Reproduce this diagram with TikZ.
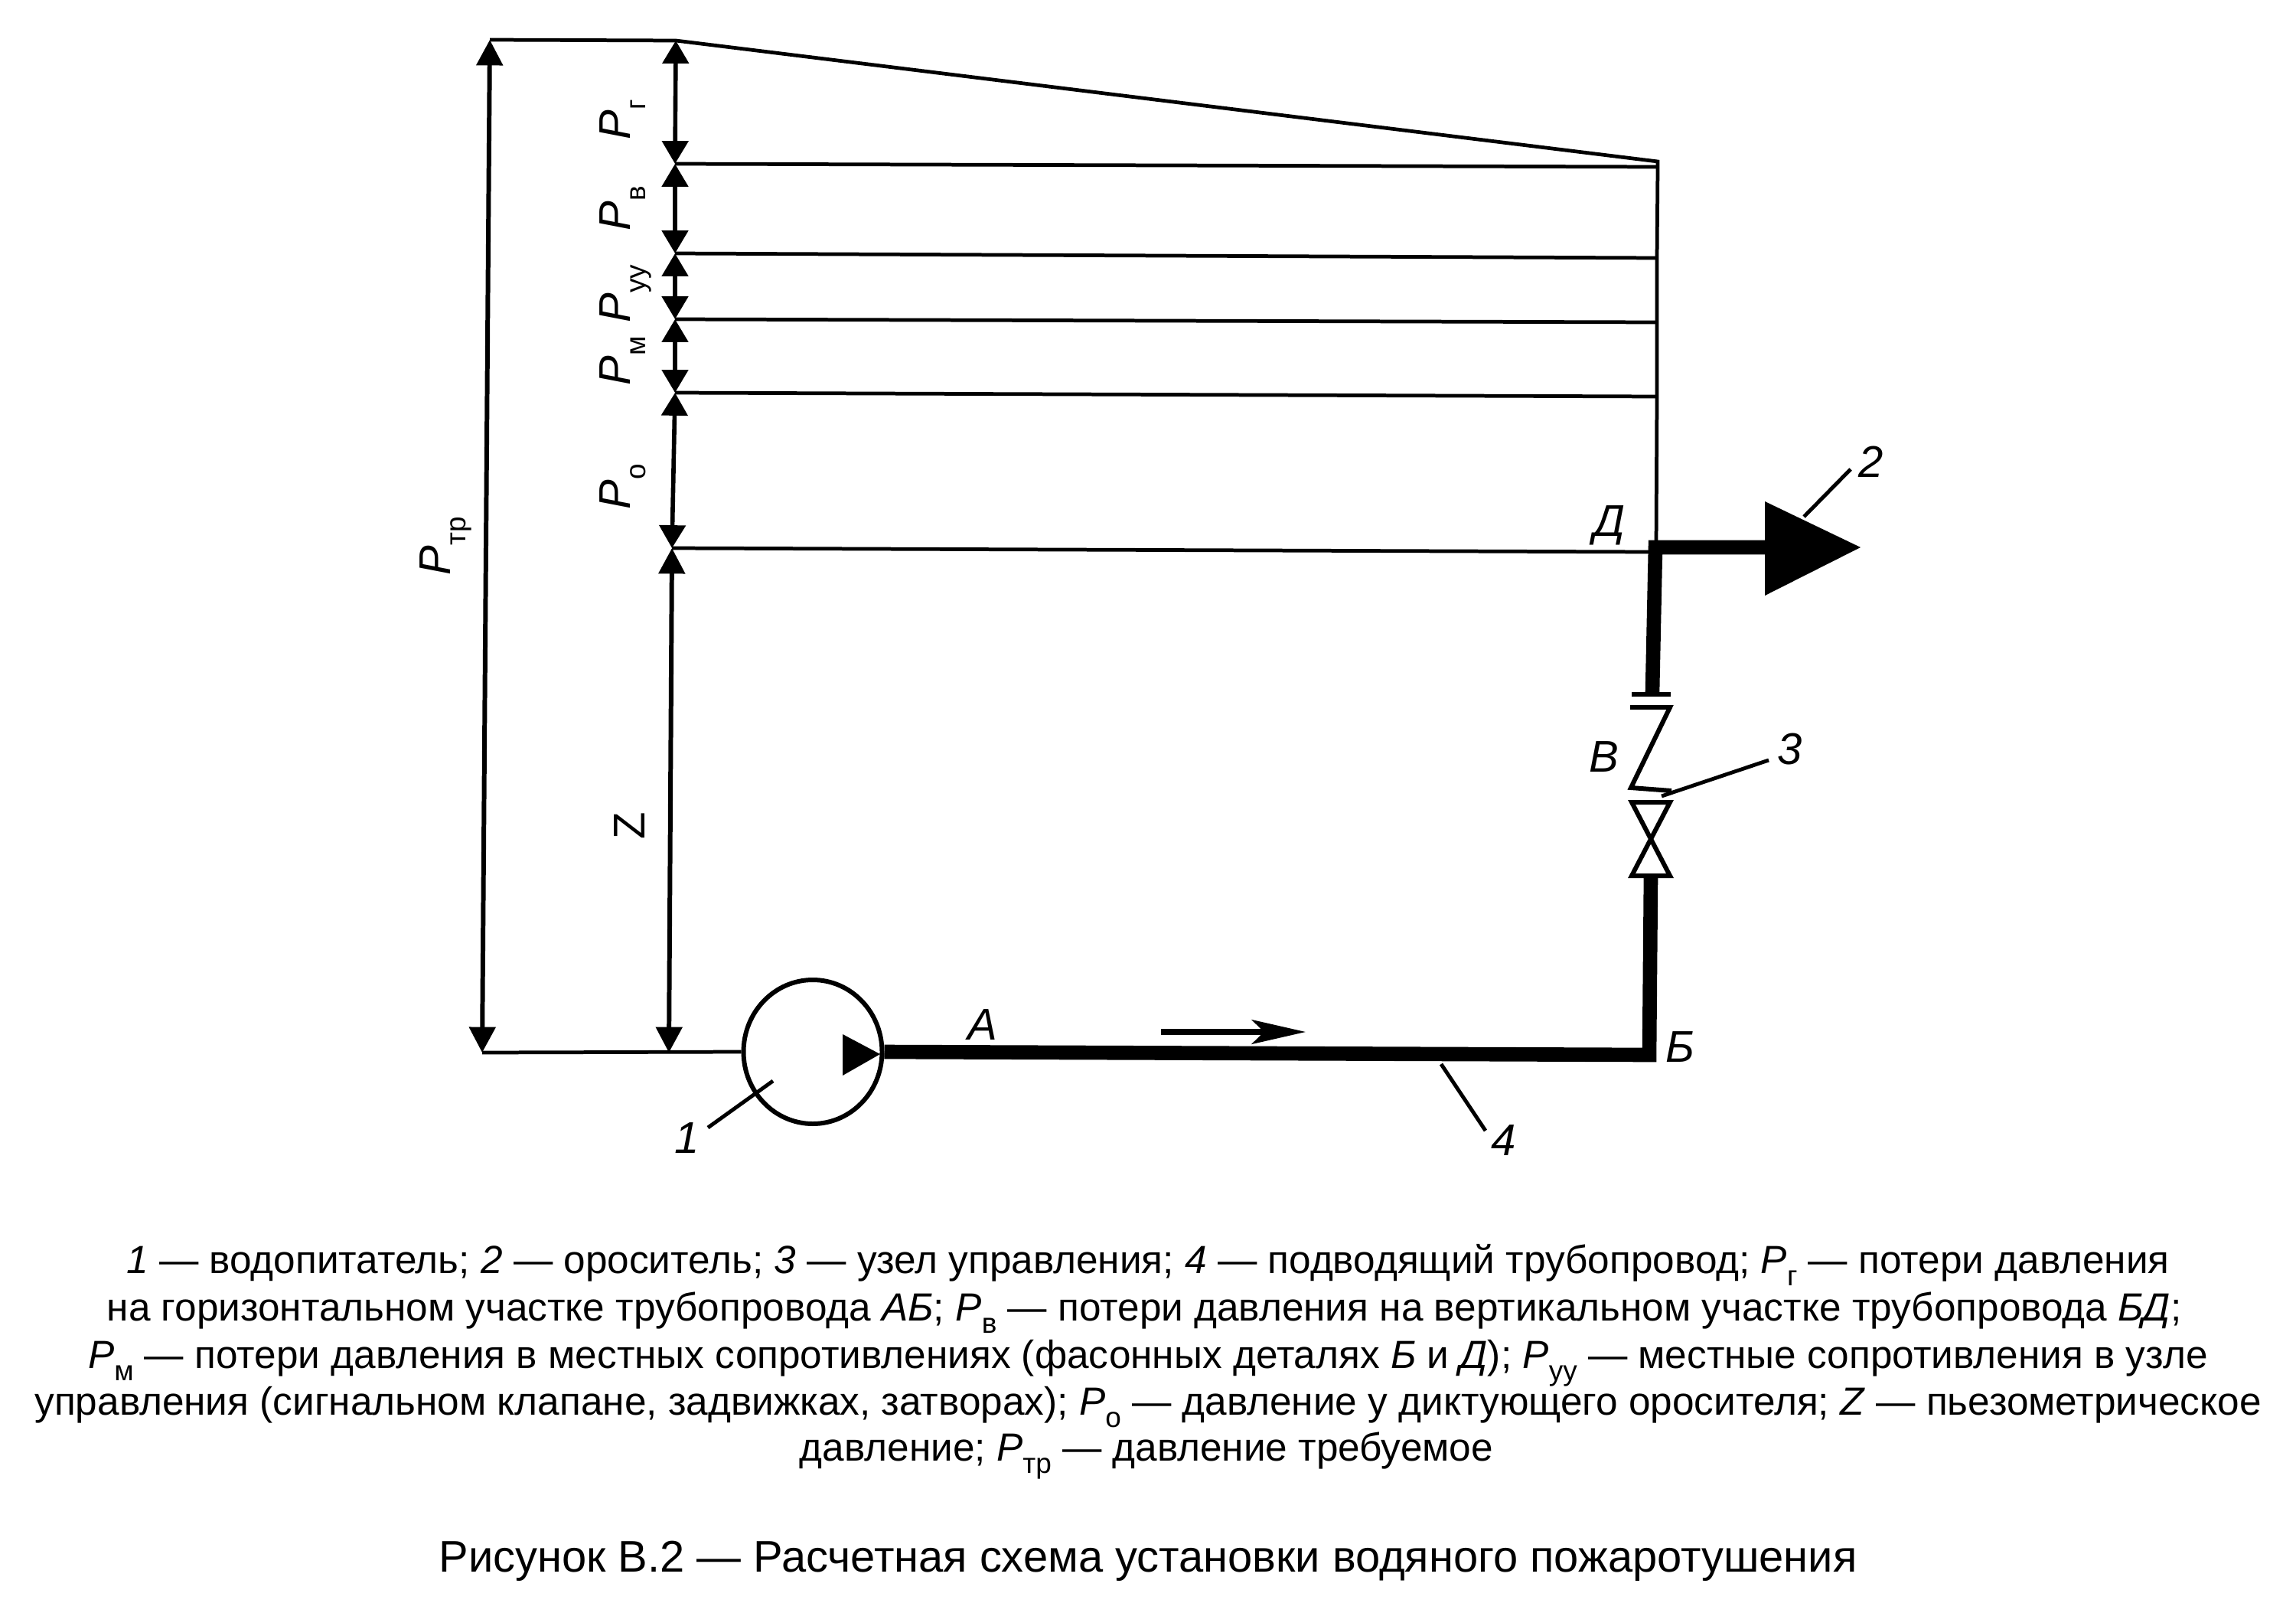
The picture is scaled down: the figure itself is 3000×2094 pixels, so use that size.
\documentclass[tikz,border=0pt]{standalone}
\usepackage{fontspec}
\setmainfont{Liberation Sans}
\usetikzlibrary{arrows.meta,shapes.geometric}
\newcommand{\capsub}[1]{\raisebox{-0.32em}{\fontsize{10.5pt}{12pt}\selectfont #1}}
\newcommand{\Pcap}[1]{\textit{P}\capsub{#1}}
\newcommand{\dimP}[1]{\fontsize{16.5pt}{18pt}\selectfont\textit{P}\raisebox{-5.7pt}{\fontsize{10.5pt}{12pt}\selectfont #1}}
\tikzset{
  thinl/.style={line width=1.35pt,black},
  leader/.style={line width=1.4pt,black},
  pipe/.style={line width=5.3pt,black,line join=miter},
  plate/.style={line width=1.7pt,black},
  dimarr/.style={line width=1.6pt,black,{Triangle[length=8.5pt,width=9.6pt]}-{Triangle[length=8.5pt,width=9.6pt]},shorten <=0pt,shorten >=0pt},
  dimbig/.style={line width=1.7pt,black,{Triangle[length=9.5pt,width=9.6pt]}-{Triangle[length=9.5pt,width=9.6pt]}},
  lab/.style={font=\fontsize{16.5pt}{18pt}\selectfont\itshape,inner sep=0pt},
  dimlab/.style={rotate=90,inner sep=0pt,anchor=base west},
  caption/.style={font=\fontsize{14.6pt}{17pt}\selectfont,anchor=base,inner sep=0pt},
  title/.style={font=\fontsize{16.45pt}{18pt}\selectfont,anchor=base,inner sep=0pt},
}
\begin{document}
\begin{tikzpicture}[x=0.01cm,y=-0.01cm]
\useasboundingbox (0,0) rectangle (3000,2094);
% key coordinates
\coordinate (ptop) at (640,52);
\coordinate (pbot) at (630,1375);
\coordinate (ztop) at (883,53);
\coordinate (l1) at (882,214);
\coordinate (l2) at (882,331);
\coordinate (l3) at (882,417);
\coordinate (l4) at (882,513);
\coordinate (l5) at (878,716);
\coordinate (zbot) at (874,1375);
\coordinate (r0) at (2166,211);
\coordinate (r1) at (2166,218);
\coordinate (r2) at (2165,337);
\coordinate (r3) at (2165,421);
\coordinate (r4) at (2165,518);
\coordinate (r5) at (2157,721);
\coordinate (rv) at (2164,712);
\coordinate (dj) at (2163,715);
\coordinate (dend) at (2310,715);
\coordinate (vtop) at (2159,904);
\coordinate (vbot) at (2157,1144);
\coordinate (bj) at (2155,1378);
% pump
\node[draw,ellipse,line width=1.7pt,minimum width=181*0.01cm,minimum height=188*0.01cm,inner sep=0pt] (pump) at (1062,1374) {};
\fill (1101,1351) -- (1150,1377) -- (1101,1405) -- cycle;
% envelope
\draw[thinl,line join=miter] (ptop) -- (ztop) -- (r0) -- (r1);
\draw[thinl] (r1) -- (r2) -- (r3) -- (r4) -- (rv);
\draw[thinl] (pbot) -- (pump.west);
% levels
\draw[thinl] (l1) -- (r1);
\draw[thinl] (l2) -- (r2);
\draw[thinl] (l3) -- (r3);
\draw[thinl] (l4) -- (r4);
\draw[thinl] (l5) -- (r5);
% dimension arrows
\draw[dimbig] (pbot) -- (ptop);
\draw[dimarr] (ztop) -- (l1);
\draw[dimarr] (l1) -- (l2);
\draw[dimarr] (l2) -- (l3);
\draw[dimarr] (l3) -- (l4);
\draw[dimarr] (l4) -- (l5);
\draw[dimbig] (l5) -- (zbot);
% pipes
\draw[pipe] (pump.east) -- (bj) -- (vbot);
\draw[pipe] (vtop) -- (dj) -- (dend);
\fill (2306,655) -- (2431,715) -- (2306,778) -- cycle;
% valve
\draw[plate] (2132,907) -- (2183,907);
\draw[plate,line join=miter] (2130,924) -- (2182,924) -- (2131,1029) -- (2184,1033);
\draw[plate,line join=miter] (2132,1048) -- (2182,1048) -- (2132,1144) -- (2182,1144) -- cycle;
% flow arrow
\coordinate (fa) at (1517,1348);
\coordinate (fb) at (1706,1348);
\draw[line width=2pt,-{Stealth[length=20pt,width=9pt,inset=4.5pt]}] (fa) -- (fb);
% leaders
\coordinate (a1) at (1010,1412); \coordinate (b1) at (925,1473);
\coordinate (a2) at (2357,675); \coordinate (b2) at (2418,613);
\coordinate (a3) at (2171,1040); \coordinate (b3) at (2311,993);
\coordinate (a4) at (1883,1390); \coordinate (b4) at (1941,1477);
\draw[leader] (a1) -- (b1);
\draw[leader] (a2) -- (b2);
\draw[leader] (a3) -- (b3);
\draw[leader] (a4) -- (b4);
% labels
\node[lab] (n1) at (898,1487) {1};
\node[lab] (n2) at (2445,603) {2};
\node[lab] (n3) at (2339,979) {3};
\node[lab] (n4) at (1965,1490) {4};
\node[lab] (la) at (1284,1339) {А};
\node[lab] (lb) at (2195,1368) {Б};
\node[lab] (lv) at (2096,989) {В};
\node[lab] (ld) at (2103,686) {Д};
\node[lab,rotate=90] (lz) at (823,1079) {\upshape Z};
% rotated P labels
\node[dimlab] (pg) at (823,183) {\dimP{г}};
\node[dimlab] (pv) at (823,302) {\dimP{в}};
\node[dimlab] (pu) at (823,422) {\dimP{уу}};
\node[dimlab] (pm) at (823,504) {\dimP{м}};
\node[dimlab] (po) at (823,666) {\dimP{о}};
\node[dimlab] (ptr) at (588,752) {\dimP{тр}};
% caption
\node[caption] (c1) at (1500,1663) {\textit{1} — водопитатель; \textit{2} — ороситель; \textit{3} — узел управления; \textit{4} — подводящий трубопровод; \Pcap{г} — потери давления};
\node[caption] (c2) at (1495,1725) {на горизонтальном участке трубопровода \textit{АБ}; \Pcap{в} — потери давления на вертикальном участке трубопровода \textit{БД};};
\node[caption] (c3) at (1500,1787) {\Pcap{м} — потери давления в местных сопротивлениях (фасонных деталях \textit{Б} и \textit{Д}); \Pcap{уу} — местные сопротивления в узле};
\node[caption] (c4) at (1500,1848) {управления (сигнальном клапане, задвижках, затворах); \Pcap{о} — давление у диктующего оросителя; \textit{Z} — пьезометрическое};
\node[caption] (c5) at (1498,1908) {давление; \Pcap{тр} — давление требуемое};
\node[title] (t) at (1500,2053) {Рисунок В.2 — Расчетная схема установки водяного пожаротушения};
\end{tikzpicture}
\end{document}
